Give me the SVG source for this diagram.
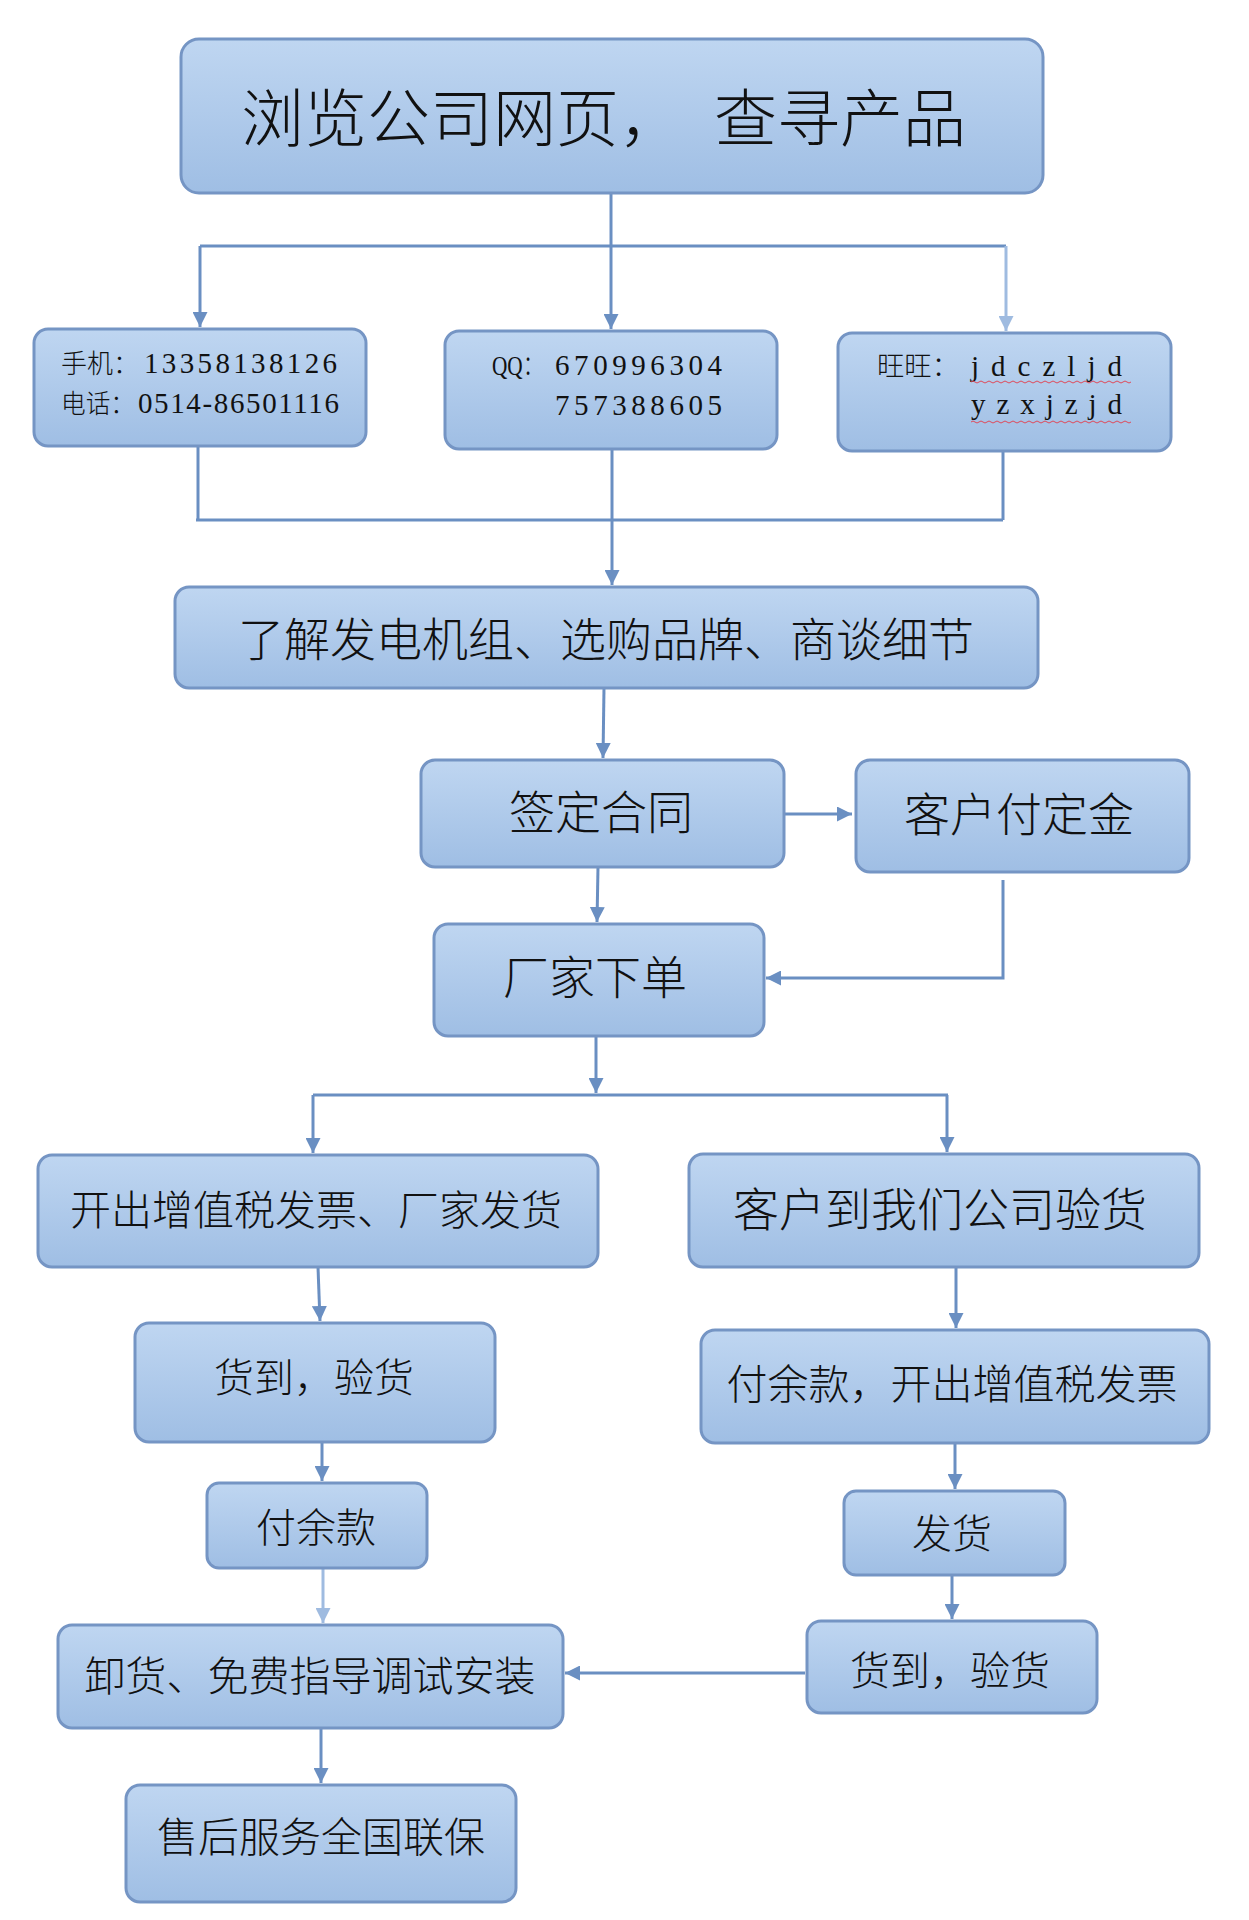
<svg xmlns="http://www.w3.org/2000/svg" width="1249" height="1920" viewBox="0 0 1249 1920">
<defs>
<linearGradient id="g" x1="0" y1="0" x2="0" y2="1">
<stop offset="0" stop-color="#bfd6f1"/>
<stop offset="1" stop-color="#9fbee4"/>
</linearGradient>
<marker id="a" viewBox="0 0 10 10" refX="10" refY="5" markerWidth="15" markerHeight="15" markerUnits="userSpaceOnUse" orient="auto">
<path d="M0,0 L10,5 L0,10 z" fill="#6a8fc2"/>
</marker>
<marker id="al" viewBox="0 0 10 10" refX="10" refY="5" markerWidth="15" markerHeight="15" markerUnits="userSpaceOnUse" orient="auto">
<path d="M0,0 L10,5 L0,10 z" fill="#9fbbe0"/>
</marker>
</defs>
<style>
.box{fill:url(#g);stroke:#7595c4;stroke-width:3}
.t{font-family:"Noto Sans CJK SC","Noto Sans CJK JP",sans-serif;font-weight:300;fill:#111;text-anchor:middle}
.s{font-family:"Liberation Serif","Noto Sans CJK SC",serif;font-weight:300;fill:#111}
.c{fill:none;stroke:#6a8fc2;stroke-width:3}
.cl{fill:none;stroke:#9fbbe0;stroke-width:3}
.sq{fill:none;stroke:#e04a5a;stroke-width:1}
</style>
<rect width="1249" height="1920" fill="#ffffff"/>

<g id="connectors">
<path class="c" d="M611,193 V329" marker-end="url(#a)"/>
<path class="c" d="M200,246 H1006" stroke-width="4"/>
<path class="c" d="M200,246 V327" marker-end="url(#a)"/>
<path class="cl" d="M1006,246 V331" marker-end="url(#al)"/>
<path class="c" d="M198,446 V520"/>
<path class="c" d="M1003,451 V520"/>
<path class="c" d="M196,520 H1003"/>
<path class="c" d="M612,449 V585" marker-end="url(#a)"/>
<path class="c" d="M604,688 L603,758" marker-end="url(#a)"/>
<path class="c" d="M781,814 H852" marker-end="url(#a)"/>
<path class="c" d="M598,867 L597,922" marker-end="url(#a)"/>
<path class="c" d="M1003,880 V978 H766" marker-end="url(#a)"/>
<path class="c" d="M596,1036 V1093" marker-end="url(#a)"/>
<path class="c" d="M313,1095 H948"/>
<path class="c" d="M313,1095 V1153" marker-end="url(#a)"/>
<path class="c" d="M947,1095 V1152" marker-end="url(#a)"/>
<path class="c" d="M318,1267 L320,1321" marker-end="url(#a)"/>
<path class="c" d="M956,1262 V1328" marker-end="url(#a)"/>
<path class="c" d="M322,1437 V1481" marker-end="url(#a)"/>
<path class="c" d="M955,1443 V1489" marker-end="url(#a)"/>
<path class="cl" d="M323,1568 V1623" marker-end="url(#al)"/>
<path class="c" d="M952,1575 V1619" marker-end="url(#a)"/>
<path class="c" d="M805,1673 H565" marker-end="url(#a)"/>
<path class="c" d="M321,1728 V1783" marker-end="url(#a)"/>
</g>

<g id="n1"><rect class="box" x="181" y="39" width="862" height="154" rx="18"/>
<text class="t" font-size="63" style="text-anchor:start" y="141"><tspan x="241">浏览公司网页，</tspan><tspan x="714">查寻产品</tspan></text></g>

<g id="n2"><rect class="box" x="34" y="329" width="332" height="117" rx="14"/>
<text class="s" font-size="26" y="373"><tspan x="61" textLength="78" lengthAdjust="spacingAndGlyphs">手机：</tspan><tspan x="144" font-size="29" textLength="193" lengthAdjust="spacing">13358138126</tspan></text>
<text class="s" font-size="26" y="413"><tspan x="61" textLength="74" lengthAdjust="spacingAndGlyphs">电话：</tspan><tspan x="138" font-size="29" textLength="201" lengthAdjust="spacing">0514-86501116</tspan></text></g>

<g id="n3"><rect class="box" x="445" y="331" width="332" height="118" rx="14"/>
<text class="s" font-size="27" y="375"><tspan x="492" textLength="52" lengthAdjust="spacingAndGlyphs">QQ：</tspan><tspan x="555" font-size="29" textLength="167" lengthAdjust="spacing">670996304</tspan></text>
<text class="s" font-size="29" x="555" y="415" textLength="167" lengthAdjust="spacing">757388605</text></g>

<g id="n4"><rect class="box" x="838" y="333" width="333" height="118" rx="14"/>
<text class="s" font-size="27" x="877" y="376" textLength="82" lengthAdjust="spacingAndGlyphs">旺旺：</text>
<text class="s" font-size="29" x="971" y="376" textLength="151" lengthAdjust="spacing">jdczljd</text>
<text class="s" font-size="29" x="971" y="414" textLength="151" lengthAdjust="spacing">yzxjzjd</text>
<path class="sq" d="M971,382 q2,-2 4,0 t4,0 t4,0 t4,0 t4,0 t4,0 t4,0 t4,0 t4,0 t4,0 t4,0 t4,0 t4,0 t4,0 t4,0 t4,0 t4,0 t4,0 t4,0 t4,0 t4,0 t4,0 t4,0 t4,0 t4,0 t4,0 t4,0 t4,0 t4,0 t4,0 t4,0 t4,0 t4,0 t4,0 t4,0 t4,0 t4,0 t4,0 t4,0 t4,0"/>
<path class="sq" d="M971,422 q2,-2 4,0 t4,0 t4,0 t4,0 t4,0 t4,0 t4,0 t4,0 t4,0 t4,0 t4,0 t4,0 t4,0 t4,0 t4,0 t4,0 t4,0 t4,0 t4,0 t4,0 t4,0 t4,0 t4,0 t4,0 t4,0 t4,0 t4,0 t4,0 t4,0 t4,0 t4,0 t4,0 t4,0 t4,0 t4,0 t4,0 t4,0 t4,0 t4,0 t4,0"/></g>

<g id="n5"><rect class="box" x="175" y="587" width="863" height="101" rx="14"/>
<text class="t" font-size="46" x="606" y="656">了解发电机组、选购品牌、商谈细节</text></g>

<g id="n6"><rect class="box" x="421" y="760" width="363" height="107" rx="14"/>
<text class="t" font-size="46" x="601" y="829">签定合同</text></g>

<g id="n7"><rect class="box" x="856" y="760" width="333" height="112" rx="14"/>
<text class="t" font-size="46" x="1019" y="831">客户付定金</text></g>

<g id="n8"><rect class="box" x="434" y="924" width="330" height="112" rx="14"/>
<text class="t" font-size="46" x="595" y="994">厂家下单</text></g>

<g id="n9"><rect class="box" x="38" y="1155" width="560" height="112" rx="14"/>
<text class="t" font-size="41" x="316" y="1225">开出增值税发票、厂家发货</text></g>

<g id="n10"><rect class="box" x="689" y="1154" width="510" height="113" rx="14"/>
<text class="t" font-size="46" x="940" y="1226">客户到我们公司验货</text></g>

<g id="n11"><rect class="box" x="135" y="1323" width="360" height="119" rx="14"/>
<text class="t" font-size="40" x="314" y="1392">货到，验货</text></g>

<g id="n12"><rect class="box" x="701" y="1330" width="508" height="113" rx="14"/>
<text class="t" font-size="41" x="952" y="1399">付余款，开出增值税发票</text></g>

<g id="n13"><rect class="box" x="207" y="1483" width="220" height="85" rx="12"/>
<text class="t" font-size="40" x="316" y="1542">付余款</text></g>

<g id="n14"><rect class="box" x="844" y="1491" width="221" height="84" rx="12"/>
<text class="t" font-size="40" x="952" y="1548">发货</text></g>

<g id="n15"><rect class="box" x="58" y="1625" width="505" height="103" rx="14"/>
<text class="t" font-size="41" x="310" y="1691">卸货、免费指导调试安装</text></g>

<g id="n16"><rect class="box" x="807" y="1621" width="290" height="92" rx="14"/>
<text class="t" font-size="40" x="950" y="1685">货到，验货</text></g>

<g id="n17"><rect class="box" x="126" y="1785" width="390" height="117" rx="14"/>
<text class="t" font-size="41" x="321" y="1852">售后服务全国联保</text></g>
</svg>
